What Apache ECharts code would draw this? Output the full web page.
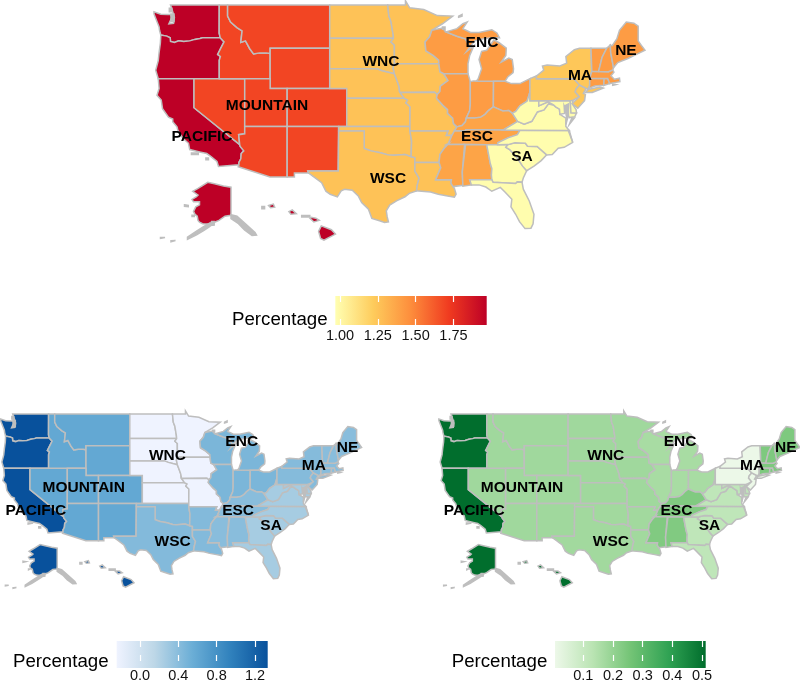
<!DOCTYPE html>
<html><head><meta charset="utf-8">
<style>html,body{margin:0;padding:0;background:#fff}#c{width:800px;height:683px;filter:blur(0.35px)}</style>
<script src="https://cdn.jsdelivr.net/npm/echarts@6/dist/echarts.min.js"></script>
</head><body><div id="c"></div>
<script>
// ---------- values ----------
const divisions   = ['PACIFIC','MOUNTAIN','WNC','WSC','ENC','ESC','SA','MA','NE'];
const pctTop      = [1.97, 1.69, 1.26, 1.26, 1.41, 1.38, 0.98, 1.24, 1.41];
const pctBlue     = [1.33, 0.60, -0.24, 0.43, 0.47, 0.40, 0.26, 0.42, 0.40];
const pctGreen    = [0.51, 0.178, 0.178, 0.175, 0.165, 0.235, 0.118, 0.006, 0.24];
const divStates   = [['WA','OR','CA','AK','HI'],['MT','ID','WY','NV','UT','CO','AZ','NM'],
  ['ND','SD','NE','KS','MN','IA','MO'],['TX','OK','AR','LA'],['WI','IL','IN','MI','OH'],
  ['KY','TN','MS','AL'],['DE','MD','VA','WV','NC','SC','GA','FL'],['NY','NJ','PA'],['ME','NH','VT','MA','RI','CT']];
const labelLon    = [-119.06,-111.42,-98.03,-97.2,-86.16,-86.74,-81.46,-74.64,-69.24];
const labelLat    = [35.92,39.26,43.64,31.14,45.48,35.92,33.68,42.28,44.75];
const ticksTop    = [1.00,1.25,1.50,1.75];
const ticksBlue   = [0.0,0.4,0.8,1.2];
const ticksGreen  = [0.1,0.2,0.3,0.4,0.5];
const rangeTop    = [0.969,1.97];
const rangeBlue   = [-0.243,1.333];
const rangeGreen  = [0.0046,0.5125];
const rampTop     = ['#FFFFB2','#FECC5C','#FD8D3C','#F03B20','#BD0026'];
const rampBlue    = ['#EFF3FF','#BDD7E7','#6BAED6','#3182BD','#08519C'];
const rampGreen   = ['#EDF8E9','#BAE4B3','#74C476','#31A354','#006D2C'];
const legendTitle = 'Percentage';

// ---------- base map geography (lon, lat) ----------
const snakeID = [[-117.03,43.83],[-116.9,44.2],[-117.22,44.4],[-116.85,45],[-116.47,45.6],[-116.92,46]];
const states = {
WA:[[[-122.76,49],[-117.03,49],[-117.04,46.42],[-116.92,46],[-118.98,46],[-119.3,45.93],[-119.9,45.84],[-120.5,45.7],[-121.2,45.65],[-121.8,45.7],[-122.3,45.55],[-122.76,45.65],[-122.8,46],[-123.2,46.15],[-123.9,46.25],[-124.05,46.7],[-124.1,47],[-124.4,47.6],[-124.7,48.2],[-124.7,48.38],[-123.9,48.17],[-123.1,48.15],[-122.75,48.15],[-122.6,47.9],[-122.95,47.3],[-122.4,47.35],[-122.3,47.9],[-122.5,48.4]]],
OR:[[[-124.2,42],[-120,42],[-117.03,42],...snakeID,[-118.98,46],[-119.3,45.93],[-119.9,45.84],[-120.5,45.7],[-121.2,45.65],[-121.8,45.7],[-122.3,45.55],[-122.76,45.65],[-122.8,46],[-123.2,46.15],[-123.9,46.25],[-123.95,45.5],[-124.1,44.6],[-124.2,43.8],[-124.5,42.85]]],
CA:[[[-124.2,42],[-120,42],[-120,39],[-114.63,35],[-114.57,34.8],[-114.15,34.3],[-114.45,34],[-114.5,33.4],[-114.72,33],[-114.72,32.72],[-117.12,32.53],[-117.3,33.1],[-118,33.65],[-118.5,34],[-119.2,34.15],[-120.5,34.45],[-120.65,35.15],[-121.3,35.7],[-121.9,36.6],[-122,36.95],[-122.5,37.5],[-122.5,37.8],[-123,38],[-123.7,38.9],[-123.85,39.8],[-124.35,40.3],[-124.1,41]]],
NV:[[[-120,42],[-114.04,42],[-114.04,36.2],[-114.75,36.1],[-114.63,35],[-120,39]]],
ID:[[[-117.03,49],[-116.05,49],[-116.05,48],[-115.7,47.45],[-114.95,46.95],[-114.35,46.65],[-114.5,45.55],[-113.95,45.7],[-113.45,44.95],[-113,44.45],[-112.3,44.55],[-111.5,44.55],[-111.05,44.48],[-111.05,42],[-114.04,42],[-117.03,42],...snakeID,[-117.04,46.42]]],
MT:[[[-116.05,49],[-104.05,49],[-104.05,45],[-111.05,45],[-111.05,44.48],[-111.5,44.55],[-112.3,44.55],[-113,44.45],[-113.45,44.95],[-113.95,45.7],[-114.5,45.55],[-114.35,46.65],[-114.95,46.95],[-115.7,47.45],[-116.05,48]]],
WY:[[[-111.05,45],[-104.05,45],[-104.05,41],[-111.05,41]]],
UT:[[[-114.04,42],[-111.05,42],[-111.05,41],[-109.05,41],[-109.05,37],[-114.04,37]]],
CO:[[[-109.05,41],[-102.05,41],[-102.05,37],[-109.05,37]]],
AZ:[[[-114.04,37],[-109.05,37],[-109.05,31.33],[-111.07,31.33],[-114.8,32.5],[-114.72,32.72],[-114.72,33],[-114.5,33.4],[-114.45,34],[-114.15,34.3],[-114.57,34.8],[-114.63,35],[-114.75,36.1],[-114.04,36.2]]],
NM:[[[-109.05,37],[-103,37],[-103.05,32],[-106.62,32],[-106.53,31.78],[-108.2,31.78],[-108.2,31.33],[-109.05,31.33]]],
ND:[[[-104.05,49],[-97.23,49],[-97.1,48],[-96.85,47.5],[-96.6,46.3],[-96.56,45.94],[-104.05,45.94]]],
SD:[[[-104.05,45.94],[-96.56,45.94],[-96.85,45.6],[-96.45,45.3],[-96.45,43.5],[-96.6,43.1],[-96.45,42.49],[-97.9,42.8],[-98.5,43],[-104.05,43]]],
NE:[[[-104.05,43],[-98.5,43],[-97.9,42.8],[-96.45,42.49],[-96.1,41.7],[-95.9,41.2],[-95.85,40.7],[-95.31,40],[-102.05,40],[-102.05,41],[-104.05,41]]],
KS:[[[-102.05,40],[-95.31,40],[-94.9,39.8],[-95.1,39.5],[-94.61,39.1],[-94.62,37],[-102.05,37]]],
OK:[[[-103,37],[-94.62,37],[-94.62,36.5],[-94.43,35.4],[-94.48,33.64],[-95.2,33.9],[-96.5,33.8],[-97.2,33.85],[-98.1,34.1],[-99.2,34.3],[-100,34.56],[-100,36.5],[-103,36.5]]],
TX:[[[-103,36.5],[-100,36.5],[-100,34.56],[-99.2,34.3],[-98.1,34.1],[-97.2,33.85],[-96.5,33.8],[-95.2,33.9],[-94.48,33.64],[-94.04,33.55],[-94.04,33],[-94.04,32],[-93.55,31.2],[-93.75,30.4],[-93.85,29.7],[-94.7,29.4],[-95.2,29],[-96.2,28.5],[-97,28],[-97.4,27.3],[-97.3,26.6],[-97.15,25.96],[-97.6,25.9],[-98.2,26.1],[-99.1,26.4],[-99.5,27.5],[-100.3,28.3],[-100.7,29.1],[-101.4,29.77],[-102.3,29.88],[-102.7,29.7],[-103.15,28.98],[-104,29.3],[-104.5,29.65],[-105,30.65],[-106,31.4],[-106.53,31.78],[-106.62,32],[-103.05,32]]],
MN:[[[-97.23,49],[-95.15,49],[-95.15,49.38],[-94.65,48.75],[-93,48.6],[-91.4,48.05],[-89.6,48],[-90.8,47.3],[-92.05,46.7],[-92.3,46.1],[-92.85,45.6],[-92.75,44.75],[-91.9,44.3],[-91.25,43.85],[-91.22,43.5],[-96.45,43.5],[-96.45,45.3],[-96.85,45.6],[-96.56,45.94],[-96.6,46.3],[-96.85,47.5],[-97.1,48]]],
IA:[[[-96.45,43.5],[-91.22,43.5],[-91.1,42.7],[-90.65,42.5],[-90.15,41.8],[-91.05,41.25],[-91.1,40.7],[-91.42,40.38],[-91.73,40.61],[-95.77,40.58],[-95.85,40.7],[-95.9,41.2],[-96.1,41.7],[-96.45,42.49],[-96.6,43.1]]],
MO:[[[-95.77,40.58],[-91.73,40.61],[-91.42,40.38],[-91.5,40],[-90.75,39.25],[-90.2,38.8],[-90.2,38.4],[-89.6,37.9],[-89.5,37.3],[-89.1,36.95],[-89.4,36.5],[-89.7,36],[-90.37,36],[-90.15,36.5],[-94.62,36.5],[-94.62,37],[-94.61,39.1],[-95.1,39.5],[-94.9,39.8],[-95.31,40]]],
AR:[[[-94.62,36.5],[-90.15,36.5],[-90.37,36],[-89.7,36],[-90.1,35.1],[-90.6,34.6],[-91.1,33.9],[-91.2,33],[-94.04,33],[-94.04,33.55],[-94.48,33.64],[-94.43,35.4]]],
LA:[[[-94.04,33],[-91.2,33],[-91,32.4],[-91.6,31],[-89.75,31],[-89.8,30.6],[-89.55,30.2],[-89.4,30],[-89.2,29.3],[-89.4,28.95],[-90.2,29.1],[-91.3,29.3],[-92.2,29.55],[-93.85,29.7],[-93.75,30.4],[-93.55,31.2],[-94.04,32]]],
WI:[[[-92.05,46.7],[-90.8,46.9],[-90.4,46.55],[-89.1,46.14],[-88.1,45.9],[-87.6,45.1],[-87.95,44.7],[-87.1,45.25],[-87.6,44.3],[-87.8,43.5],[-87.8,42.5],[-90.65,42.5],[-91.1,42.7],[-91.22,43.5],[-91.25,43.85],[-91.9,44.3],[-92.75,44.75],[-92.85,45.6],[-92.3,46.1]]],
IL:[[[-90.65,42.5],[-87.8,42.5],[-87.53,41.7],[-87.53,39.35],[-87.6,38.7],[-88,37.9],[-88.1,37.5],[-88.5,37.1],[-89.1,36.95],[-89.5,37.3],[-89.6,37.9],[-90.2,38.4],[-90.2,38.8],[-90.75,39.25],[-91.5,40],[-91.42,40.38],[-91.1,40.7],[-91.05,41.25],[-90.15,41.8]]],
IN:[[[-87.53,41.7],[-87.2,41.76],[-86.8,41.76],[-84.8,41.73],[-84.82,39.1],[-85.4,38.7],[-85.8,38.3],[-86.3,38],[-87,37.9],[-88,37.9],[-87.6,38.7],[-87.53,39.35]]],
MI:[[[-86.8,41.76],[-84.8,41.73],[-83.45,41.73],[-83.1,42.2],[-82.5,42.6],[-82.45,43],[-82.6,43.9],[-83,44.05],[-83.9,43.65],[-83.35,44.3],[-83.3,45],[-84.1,45.5],[-84.75,45.78],[-85.1,45.4],[-85.6,44.8],[-86.2,44.7],[-86.5,43.9],[-86.2,43],[-86.6,42]],
    [[-90.4,46.55],[-89.1,46.85],[-88.4,47.3],[-87.9,47.45],[-88.4,46.85],[-87.5,46.5],[-86.5,46.5],[-85,46.75],[-84.4,46.45],[-84.1,46],[-85,46],[-86,45.9],[-87,45.7],[-87.6,45.1],[-88.1,45.9],[-89.1,46.14]]],
OH:[[[-84.8,41.73],[-83.45,41.73],[-82.7,41.5],[-81.7,41.5],[-80.52,42],[-80.52,40.64],[-80.85,39.7],[-81.7,39.2],[-82.2,38.6],[-82.6,38.42],[-83,38.7],[-83.7,38.65],[-84.2,38.85],[-84.82,39.1]]],
KY:[[[-89.4,36.5],[-89.1,36.95],[-88.5,37.1],[-88.1,37.5],[-88,37.9],[-87,37.9],[-86.3,38],[-85.8,38.3],[-85.4,38.7],[-84.82,39.1],[-84.2,38.85],[-83.7,38.65],[-83,38.7],[-82.6,38.42],[-81.97,37.54],[-83.68,36.6],[-86,36.63],[-88.07,36.65],[-88.07,36.5]]],
TN:[[[-89.7,36],[-89.4,36.5],[-88.07,36.5],[-88.07,36.65],[-86,36.63],[-83.68,36.6],[-81.68,36.59],[-82,36.1],[-83.1,35.75],[-84.3,35.2],[-84.32,34.99],[-85.6,34.98],[-88.2,35],[-90.3,35],[-90.1,35.1]]],
MS:[[[-90.3,35],[-88.2,35],[-88.1,34.9],[-88.47,31.9],[-88.4,30.35],[-89.55,30.2],[-89.8,30.6],[-89.75,31],[-91.6,31],[-91,32.4],[-91.2,33],[-91.1,33.9],[-90.6,34.6],[-90.1,35.1]]],
AL:[[[-88.2,35],[-85.6,34.98],[-85.18,32.87],[-85,32.3],[-85.05,31.55],[-85,31],[-87.6,31],[-87.4,30.4],[-88.4,30.25],[-88.47,31.9],[-88.1,34.9]]],
GA:[[[-85.6,34.98],[-83.1,35],[-83.35,34.7],[-82.9,34.45],[-82,33.5],[-81.4,32.6],[-80.9,32.05],[-81.3,31.2],[-81.45,30.7],[-82,30.75],[-82.2,30.55],[-84.86,30.7],[-85,31],[-85.05,31.55],[-85,32.3],[-85.18,32.87]]],
FL:[[[-87.6,31],[-85,31],[-84.86,30.7],[-82.2,30.55],[-82,30.75],[-81.45,30.7],[-81.3,29.9],[-80.6,28.5],[-80.05,26.9],[-80.15,25.75],[-80.4,25.2],[-81.1,25.15],[-81.75,26],[-82.2,26.9],[-82.75,27.8],[-82.65,28.7],[-83.4,29.5],[-84,30.1],[-85,29.65],[-85.7,30.15],[-86.5,30.4],[-87.4,30.4]]],
SC:[[[-83.1,35],[-82.3,35.2],[-81.05,35.15],[-80.8,34.82],[-79.67,34.8],[-78.55,33.85],[-79.2,33.2],[-80,32.6],[-80.9,32.05],[-81.4,32.6],[-82,33.5],[-82.9,34.45],[-83.35,34.7]]],
NC:[[[-84.32,34.99],[-83.1,35],[-82.3,35.2],[-81.05,35.15],[-80.8,34.82],[-79.67,34.8],[-78.55,33.85],[-77.9,33.9],[-77.2,34.6],[-76.5,34.7],[-75.5,35.25],[-75.9,36.55],[-81.68,36.59],[-82,36.1],[-83.1,35.75],[-84.3,35.2]]],
VA:[[[-83.68,36.6],[-81.68,36.59],[-75.9,36.55],[-76.3,37],[-76.3,37.9],[-77,38.3],[-77.05,38.85],[-77.5,39.1],[-77.75,39.3],[-78.35,39.4],[-78.87,38.77],[-79.65,38.55],[-80.3,37.55],[-81.2,37.25],[-81.97,37.54]]],
WV:[[[-81.97,37.54],[-81.2,37.25],[-80.3,37.55],[-79.65,38.55],[-78.87,38.77],[-78.35,39.4],[-77.75,39.3],[-78.4,39.62],[-79.48,39.2],[-79.48,39.72],[-80.52,39.72],[-80.52,40.64],[-80.85,39.7],[-81.7,39.2],[-82.2,38.6],[-82.6,38.42]]],
MD:[[[-79.48,39.72],[-75.79,39.72],[-75.7,38.46],[-75.05,38.45],[-75.25,38.03],[-75.9,37.95],[-76.2,38.6],[-76.5,39.2],[-76.45,38.4],[-77,38.3],[-77.05,38.85],[-77.5,39.1],[-77.75,39.3],[-78.4,39.62],[-79.48,39.2]]],
DE:[[[-75.79,39.72],[-75.45,39.8],[-75.55,39.4],[-75.1,38.8],[-75.05,38.45],[-75.7,38.46]]],
PA:[[[-80.52,42],[-79.76,42.27],[-79.76,42],[-75.35,42],[-74.7,41.36],[-75.1,40.95],[-75.2,40.65],[-74.72,40.15],[-75.45,39.8],[-75.79,39.72],[-80.52,39.72]]],
NJ:[[[-74.7,41.36],[-73.9,41],[-74.25,40.5],[-74,40.4],[-74.1,39.75],[-74.9,38.95],[-75.55,39.45],[-74.72,40.15],[-75.2,40.65],[-75.1,40.95]]],
NY:[[[-79.76,42.27],[-79.76,42],[-75.35,42],[-74.7,41.36],[-73.9,41],[-73.65,41],[-73.5,41.3],[-73.5,42.05],[-73.25,42.75],[-73.35,45],[-74.7,45],[-75.3,44.85],[-76.3,44.2],[-76.2,43.55],[-77,43.27],[-78.5,43.37],[-79.05,43.27],[-78.9,42.85]],
    [[-74,40.6],[-73.7,40.9],[-72.3,41.15],[-71.9,41.05],[-73.2,40.6]]],
CT:[[[-73.65,41],[-73.5,41.3],[-73.5,42.05],[-71.8,42.02],[-71.85,41.32],[-72.9,41.25]]],
RI:[[[-71.8,42.02],[-71.38,42.02],[-71.15,41.5],[-71.85,41.32]]],
MA:[[[-73.5,42.05],[-73.25,42.75],[-71.3,42.7],[-70.8,42.87],[-70.65,42.65],[-71,42.3],[-70.6,41.95],[-70,42.05],[-69.95,41.7],[-70.6,41.6],[-71.15,41.5],[-71.38,42.02],[-71.8,42.02]]],
VT:[[[-73.25,42.75],[-72.45,42.73],[-72.05,44.1],[-71.5,45],[-73.35,45]]],
NH:[[[-72.45,42.73],[-71.3,42.7],[-70.8,42.87],[-70.7,43.1],[-71.03,44.6],[-71.08,45.3],[-71.5,45],[-72.05,44.1]]],
ME:[[[-70.7,43.1],[-70.2,43.6],[-69,44],[-68,44.4],[-67,44.8],[-67.45,45.3],[-67.8,45.7],[-67.8,47.07],[-68.3,47.35],[-69.2,47.45],[-70,46.7],[-70.3,45.9],[-70.85,45.25],[-71.08,45.3],[-71.03,44.6]]]
};
const islandsGrey = [
 [[-122.9,48.7],[-122.6,48.7],[-122.6,48.4],[-122.9,48.4]],
 [[-122.7,48.2],[-122.35,48.2],[-122.35,47.5],[-122.7,47.5]],
 [[-120.3,34.05],[-119.5,34.05],[-119.5,33.9],[-120.3,33.9]],
 [[-118.6,33.5],[-118.3,33.5],[-118.3,33.3],[-118.6,33.3]],
 [[-76.45,39.2],[-76,39.4],[-76,38.2],[-76.3,37.2],[-76.2,37.9]],
 [[-75.6,37.9],[-75.9,37.2],[-75.95,37.15],[-75.3,37.9]],
 [[-76,36.5],[-75.5,35.3],[-75.6,35.25],[-75.9,36.3]],
 [[-70.8,41.45],[-70.45,41.4],[-70.45,41.3],[-70.8,41.33]],
 [[-88.9,48],[-88.5,48.15],[-88.5,48],[-88.9,47.9]],
 [[-90.8,47],[-90.5,47],[-90.5,46.8],[-90.8,46.8]]
];

// insets: Alaska and Hawaii are redrawn below the lower 48 on the same page scale
const SX = 1.159, VIEW = {W:-124.7, E:-67, N:49, S:25.1}, BOX_TOP = {left:154, top:5, width:491, height:224};
const toMerc = lat => Math.log(Math.tan(Math.PI/4 + lat*Math.PI/360))*180/Math.PI;
const fromMerc = m => (2*Math.atan(Math.exp(m*Math.PI/180)) - Math.PI/2)*180/Math.PI;
const pageToGeo = (x,y) => {
  const lon = VIEW.W + (x-BOX_TOP.left)/BOX_TOP.width*(VIEW.E-VIEW.W);
  const m = toMerc(VIEW.N) - (y-BOX_TOP.top)/BOX_TOP.height*(toMerc(VIEW.N)-toMerc(VIEW.S));
  return [lon, fromMerc(m)];
};
const ak = r => r.map(([lon,lat]) => pageToGeo(231+(lon+141)*1.5, 182+(71.4-lat)*3));
const hi = r => r.map(([lon,lat]) => pageToGeo(326+(lon+155.5)*13.5, 233+(19.6-lat)*11));
states.AK = [ak([[-141,69.65],[-141,60.3],[-145,60],[-149,58.6],[-152,58],[-155,57.4],[-158,57.4],[-160,57.5],[-162,58],[-163,58.6],[-163.5,60],[-165,60.6],[-166,61.6],[-164.5,63.1],[-162,63.8],[-162,64.8],[-166,64.8],[-167,65.6],[-164,66.5],[-163,67],[-166.5,68.3],[-163,69.3],[-156.5,71.3],[-152,70.8],[-146,70.1]])];
states.HI = [hi([[-156.05,19.75],[-155.85,20.25],[-155.1,19.9],[-154.8,19.5],[-155.65,18.95],[-155.9,19.1]]),
             hi([[-156.7,20.95],[-156.6,21.03],[-156.25,20.95],[-156,20.75],[-156.4,20.6]]),
             hi([[-158.25,21.55],[-158,21.7],[-157.7,21.35],[-158.1,21.3]]),
             hi([[-159.75,22.1],[-159.4,22.23],[-159.3,21.95],[-159.6,21.9]])];
const greyExtra = [
 ak([[-141,60.5],[-137,60],[-131,57.3],[-125,54.6],[-124,53.7],[-127,53.6],[-132,55.4],[-136,57.5],[-141,59.2]]),
 ak([[-155,57.8],[-159,56.6],[-164,55],[-170,53],[-170,52.3],[-164,53.8],[-159,55.3],[-155,56.6]]),
 ak([[-153.9,58.2],[-152.2,58.2],[-152.2,57],[-154,56.9]]),
 ak([[-181,51.8],[-178,51.9],[-178,51.6],[-181,51.5]]),
 ak([[-188,52.9],[-185,52.9],[-185,52.6],[-188,52.6]]),
 ak([[-172,63.8],[-169.5,63.6],[-169.5,63.2],[-172,63.3]]),
 ak([[-167,60.3],[-165.5,60.3],[-165.5,59.9],[-167,59.9]]),
 hi([[-157.3,21.2],[-156.7,21.2],[-156.7,21.05],[-157.3,21.05]]),
 hi([[-160.25,22],[-160.05,22],[-160.05,21.8],[-160.25,21.8]])
];
const geojson = {type:'FeatureCollection', features:[
  ...Object.keys(states).map(k => ({type:'Feature',properties:{name:k},geometry:{type:'MultiPolygon',coordinates:states[k].map(r=>[r])}})),
  {type:'Feature',properties:{name:'islands'},geometry:{type:'MultiPolygon',coordinates:[...islandsGrey,...greyExtra].map(r=>[r])}}
]};
echarts.registerMap('us', geojson);

// ---------- chart ----------
const mercProjection = {
  project: p => [p[0]*SX, -toMerc(p[1])],
  unproject: p => [p[0]/SX, fromMerc(-p[1])]
};
const panels = [
  {box:BOX_TOP, values:pctTop, range:rangeTop, ramp:rampTop, ticks:ticksTop, fmt:2, margin:3,
   bar:{left:335.3,top:296,width:151.4,height:29}, title:{x:232,y:320}},
  {box:{left:0.6,top:414,width:361,height:165}, values:pctBlue, range:rangeBlue, ramp:rampBlue, ticks:ticksBlue, fmt:1, margin:7,
   bar:{left:116.7,top:641,width:151,height:27}, title:{x:13,y:662}},
  {box:{left:438.9,top:414,width:361,height:165}, values:pctGreen, range:rangeGreen, ramp:rampGreen, ticks:ticksGreen, fmt:1, margin:7,
   bar:{left:555,top:641,width:150.7,height:27}, title:{x:451.7,y:662}}
];
const seriesData = vals => divisions.flatMap((d,i) => divStates[i].map(s => ({name:s, value:vals[i]})));
const labelData = divisions.map((d,i) => ({name:d, value:[labelLon[i], labelLat[i]]}));
const GREY = '#BEBEBE';
const rampGradient = ramp => new echarts.graphic.LinearGradient(0,0,1,0, ramp.map((c,i)=>({offset:i/(ramp.length-1), color:c})));

const option = {
  animation:false, backgroundColor:'#fff',
  geo: panels.map(p => ({
    map:'us', projection:mercProjection, roam:false, silent:true,
    boundingCoords:[[VIEW.W,VIEW.N],[VIEW.E,VIEW.S]],
    left:p.box.left, top:p.box.top, width:p.box.width, height:p.box.height,
    itemStyle:{areaColor:GREY, borderColor:GREY, borderWidth:1.5},
    emphasis:{disabled:true}, select:{disabled:true}, label:{show:false}
  })),
  series: [
    ...panels.map((p,i) => ({type:'map', geoIndex:i, silent:true, data:seriesData(p.values)})),
    ...panels.map((p,i) => ({type:'scatter', coordinateSystem:'geo', geoIndex:i, silent:true, symbolSize:0, z:10,
      itemStyle:{opacity:1}, data:labelData,
      label:{show:true, position:'inside', formatter:'{b}', color:'#000', opacity:1, fontFamily:'Liberation Sans', fontWeight:'bold', fontSize:15.5}}))
  ],
  visualMap: panels.map((p,i) => ({
    type:'continuous', show:false, seriesIndex:i, min:p.range[0], max:p.range[1],
    calculable:false, inRange:{color:p.ramp}
  })),
  grid: panels.map(p => ({left:p.bar.left, top:p.bar.top, width:p.bar.width, height:p.bar.height, show:false})),
  xAxis: panels.flatMap((p,i) => [0,1].map(k => ({
    type:'value', gridIndex:i, position:k?'top':'bottom', min:p.range[0], max:p.range[1], z:10, silent:true,
    axisLine:{show:false}, splitLine:{show:false},
    axisTick:{show:true, inside:true, length:6, customValues:p.ticks, lineStyle:{color:'#fff', width:1.2}},
    axisLabel:{show:k===0, margin:p.margin, customValues:p.ticks, formatter:v=>v.toFixed(p.fmt), color:'#111',
      fontFamily:'Liberation Sans', fontSize:14.5, hideOverlap:false, showMinLabel:true, showMaxLabel:true}
  }))),
  yAxis: panels.map((p,i) => ({type:'value', gridIndex:i, show:false, min:0, max:1})),
  graphic: [
    ...panels.map(p => ({type:'rect', z:1, silent:true, shape:{x:p.bar.left, y:p.bar.top, width:p.bar.width, height:p.bar.height},
      style:{fill:rampGradient(p.ramp)}})),
    ...panels.map(p => ({type:'text', x:p.title.x, y:p.title.y, silent:true,
      style:{text:legendTitle, fill:'#000', font:'18.7px "Liberation Sans"', verticalAlign:'middle'}}))
  ]
};
const chart = echarts.init(document.getElementById('c'), null, {renderer:'canvas'});
chart.setOption(option);
</script></body></html>
